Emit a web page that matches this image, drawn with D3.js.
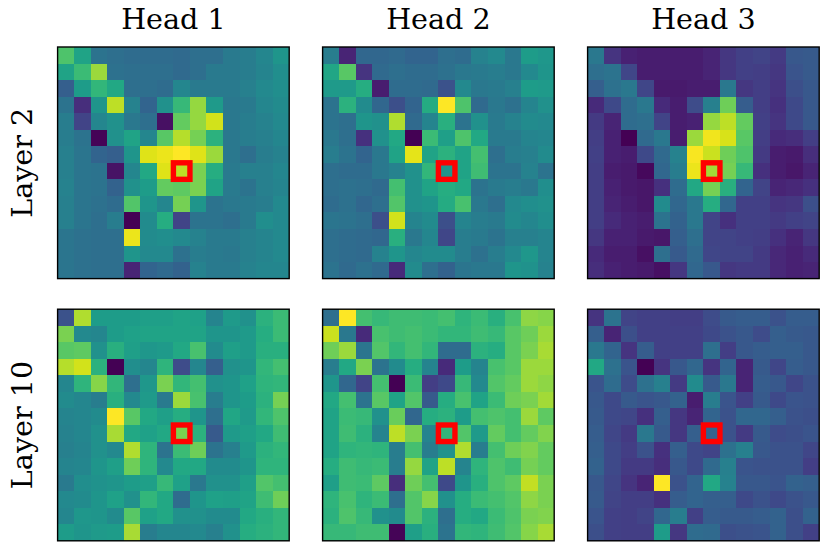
<!DOCTYPE html>
<html><head><meta charset="utf-8">
<script src="https://d3js.org/d3.v7.min.js"></script>
<style>html,body{margin:0;padding:0;background:#fff}svg{display:block}text{font-family:"DejaVu Serif";fill:#000}</style>
</head><body><div id="c"></div>
<script>
const headLabels=["Head 1","Head 2","Head 3"];
const layerLabels=["Layer 2","Layer 10"];
const queryCell=[7,7];
const layer2Head1=[
[72,58,38,36,35,35,35,34,36,36,41,42,46,52],
[58,68,85,37,36,36,36,34,36,41,41,42,45,49],
[30,55,66,60,36,36,35,46,41,41,41,43,47,49],
[38,13,52,90,44,32,50,67,84,54,40,41,46,48],
[42,20,46,50,40,36,4,76,84,93,40,42,44,47],
[42,38,1,50,58,46,74,89,79,64,40,42,43,46],
[43,39,32,30,52,95,97,100,95,85,40,36,42,44],
[43,39,38,5,46,60,95,90,80,62,41,43,43,46],
[44,39,38,31,50,55,76,75,80,58,41,38,43,45],
[43,39,37,35,73,52,46,79,52,38,40,41,42,47],
[43,39,36,42,0,48,62,20,38,38,36,41,49,47],
[39,37,36,36,97,48,49,47,44,41,41,43,45,47],
[39,37,36,36,52,47,47,37,42,41,40,43,45,47],
[39,37,36,36,10,32,34,31,44,41,41,44,46,46]];
const layer2Head2=[
[42,10,33,33,34,32,32,36,35,44,47,40,55,53],
[59,74,15,34,36,35,35,37,40,41,42,40,47,52],
[54,54,62,8,35,35,34,25,47,40,41,43,55,54],
[38,64,48,33,24,32,61,100,72,34,40,37,45,50],
[38,36,52,50,88,34,45,63,38,50,41,44,48,47],
[40,36,14,50,60,0,68,56,72,60,41,41,45,46],
[42,38,32,40,58,96,58,64,58,70,36,42,43,48],
[36,35,35,40,44,50,66,52,58,69,38,38,44,38],
[36,37,36,34,70,50,58,62,60,38,41,42,40,49],
[35,37,33,36,73,50,52,61,71,40,36,47,49,50],
[39,38,36,24,93,45,48,24,45,42,41,48,46,49],
[36,35,34,33,63,40,46,21,42,41,38,43,43,45],
[36,35,34,44,52,46,48,48,42,37,42,47,53,45],
[38,34,37,34,12,48,36,31,39,40,40,52,51,44]];
const layer2Head3=[
[40,15,9,8,8,8,8,10,16,19,20,17,27,28],
[36,38,21,8,8,8,8,10,16,19,18,16,26,28],
[30,37,40,21,7,7,8,8,40,16,18,15,24,27],
[12,22,35,40,12,8,23,43,78,29,18,14,22,27],
[17,10,35,36,20,8,9,84,90,76,19,15,22,27],
[18,9,0,34,40,8,85,98,94,74,18,12,13,18],
[19,9,8,22,34,44,99,92,78,72,17,8,7,13],
[18,8,7,2,33,42,97,86,79,67,14,8,6,10],
[18,9,7,6,14,35,60,79,63,32,20,10,11,14],
[18,10,8,6,48,33,40,62,33,19,19,15,16,24],
[18,12,9,8,38,31,40,20,14,19,19,17,19,20],
[16,9,9,7,6,30,36,20,20,19,18,14,10,16],
[12,8,8,4,36,28,34,21,20,20,17,11,9,12],
[13,9,8,7,4,16,33,27,16,17,17,11,9,10]];
const layer10Head1=[
[25,88,55,55,55,56,56,58,57,45,54,50,64,68],
[80,47,46,55,57,58,58,58,58,52,52,54,62,68],
[74,75,50,63,56,53,54,60,71,48,56,54,63,63],
[89,93,64,0,49,46,65,23,46,30,50,52,66,70],
[46,65,82,66,36,53,80,66,70,50,52,57,65,66],
[48,46,42,63,47,54,41,85,71,42,52,55,64,79],
[45,46,48,100,74,60,56,62,52,36,59,54,66,72],
[44,46,50,87,60,57,60,80,64,28,54,56,60,69],
[43,45,50,47,88,65,38,68,78,38,43,54,64,66],
[45,46,52,56,78,65,47,60,60,48,48,52,65,65],
[41,49,51,52,55,56,67,57,40,50,50,56,73,70],
[47,48,52,57,50,66,60,35,52,57,56,58,69,78],
[46,53,52,48,74,57,60,50,50,48,48,60,63,66],
[55,52,54,55,87,42,46,46,47,43,50,62,64,66]];
const layer10Head2=[
[36,100,70,67,69,69,68,70,65,68,63,71,83,82],
[92,40,12,71,69,70,68,66,66,69,67,74,78,85],
[78,85,39,73,66,70,66,35,35,64,62,74,80,87],
[42,60,80,38,48,62,45,12,55,45,71,74,85,85],
[52,33,20,70,0,68,18,22,67,47,73,76,85,83],
[60,70,38,74,58,73,28,62,71,58,68,78,80,86],
[58,68,67,50,77,33,62,64,55,70,72,70,85,75],
[58,69,64,45,90,80,45,66,73,54,76,70,76,81],
[58,65,66,65,42,70,42,51,88,42,70,78,81,76],
[62,69,67,68,42,84,58,90,45,65,72,69,79,76],
[56,69,68,75,13,78,70,22,52,63,72,75,91,80],
[65,71,65,68,36,73,82,50,62,68,70,73,83,80],
[64,72,67,50,48,73,64,36,62,60,68,72,80,81],
[67,67,69,69,1,56,63,38,66,65,69,73,82,87]];
const layer10Head3=[
[15,38,20,19,19,18,18,23,28,29,29,25,29,29],
[30,10,24,19,19,19,19,22,25,27,23,30,28,27],
[40,32,15,29,19,19,19,36,18,27,29,30,30,27],
[60,37,26,0,15,27,33,15,32,10,28,21,29,27],
[26,35,23,37,43,17,48,28,40,10,29,27,21,25],
[27,22,28,26,27,31,8,42,26,19,28,22,26,25],
[28,22,21,14,30,16,10,32,25,33,33,30,25,24],
[29,21,17,40,28,16,30,32,25,17,28,23,24,26],
[30,22,18,25,14,30,22,20,37,43,27,25,25,21],
[31,22,17,17,13,27,22,34,43,26,25,25,25,18],
[27,21,15,10,100,25,32,60,44,27,27,26,31,30],
[28,20,18,18,14,29,32,30,30,22,25,22,25,27],
[26,19,18,20,33,42,19,29,28,28,29,31,24,31],
[24,19,18,18,55,16,35,34,24,25,26,31,24,19]];
const panels=[[layer2Head1,layer2Head2,layer2Head3],[layer10Head1,layer10Head2,layer10Head3]];

const W=830,H=554,size=231.6;
const lefts=[57.6,322.6,587.6],tops=[47,309.2];
const svg=d3.select("#c").append("svg").attr("width",W).attr("height",H);
const color=d3.scaleSequential(d3.interpolateViridis).domain([0,100]);
const idx=d3.range(14);
const band=d3.scaleBand().domain(idx).range([0,size]);

panels.forEach((rowPanels,r)=>{
  rowPanels.forEach((grid,c)=>{
    const g=svg.append("g").attr("transform",`translate(${lefts[c]},${tops[r]})`);
    const rows=g.selectAll("g.r").data(grid).join("g").attr("class","r")
      .attr("transform",(d,i)=>`translate(0,${band(i)})`);
    rows.selectAll("rect").data(d=>d).join("rect")
      .attr("x",(d,i)=>band(i)).attr("y",0)
      .attr("width",band.bandwidth()).attr("height",band.bandwidth())
      .attr("shape-rendering","crispEdges")
      .attr("fill",d=>color(d));
    g.append("rect").attr("x",band(queryCell[0])).attr("y",band(queryCell[1]))
      .attr("width",band.bandwidth()).attr("height",band.bandwidth())
      .attr("fill","none").attr("stroke","#ff0000").attr("stroke-width",5.4);
    g.append("rect").attr("width",size).attr("height",size)
      .attr("fill","none").attr("stroke","#000").attr("stroke-width",1.4);
  });
});
svg.selectAll("text.h").data(headLabels).join("text").attr("class","h")
  .attr("x",(d,i)=>lefts[i]+size/2).attr("y",28.5).attr("text-anchor","middle")
  .attr("font-size",28.6).text(d=>d);
svg.selectAll("text.l").data(layerLabels).join("text").attr("class","l")
  .attr("transform",(d,i)=>`translate(32,${tops[i]+size/2}) rotate(-90)`)
  .attr("text-anchor","middle").attr("font-size",28.6).text(d=>d);
</script></body></html>
